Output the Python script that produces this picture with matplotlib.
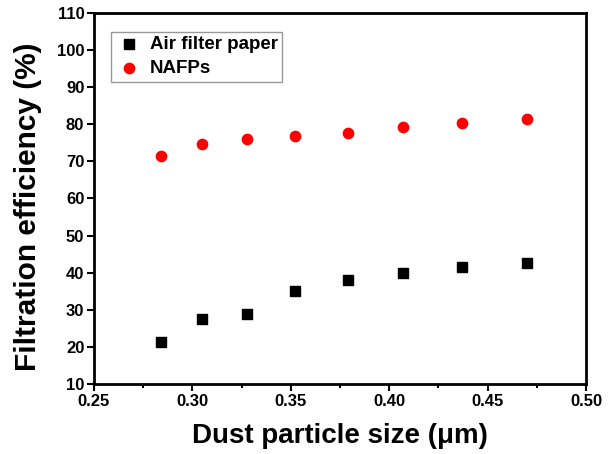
import matplotlib
matplotlib.use('Agg')
import matplotlib.pyplot as plt
from matplotlib.ticker import MultipleLocator

plt.rcParams['font.family'] = ['Liberation Sans', 'DejaVu Sans']
plt.rcParams['font.weight'] = 'bold'

# particle size (um)
sizes = [0.284, 0.305, 0.328, 0.352, 0.379, 0.407, 0.437, 0.470]
# filtration efficiency (%)
air_filter = [21.2, 27.5, 29.0, 35.0, 38.0, 40.0, 41.5, 42.5]
nafps = [71.5, 74.8, 76.1, 76.8, 77.7, 79.3, 80.3, 81.3]

fig = plt.figure(figsize=(6.08, 4.54), dpi=100)
ax = fig.add_axes([0.1546, 0.1542, 0.8092, 0.8172])

ax.scatter(sizes, air_filter, marker='s', s=50, color='black', label='Air filter paper', zorder=3)
ax.scatter(sizes, nafps, marker='o', s=55, color='red', label='NAFPs', zorder=3)

ax.set_xlim(0.25, 0.50)
ax.set_ylim(10, 110)
ax.xaxis.set_major_locator(MultipleLocator(0.05))
ax.xaxis.set_minor_locator(MultipleLocator(0.025))
ax.yaxis.set_major_locator(MultipleLocator(10))
ax.xaxis.set_major_formatter(matplotlib.ticker.FormatStrFormatter('%.2f'))

ax.tick_params(axis='both', which='major', direction='out', length=5, width=1.5, labelsize=12, pad=2)
ax.tick_params(axis='x', which='minor', direction='out', length=3, width=1.5)
for sp in ax.spines.values():
    sp.set_linewidth(2)

ax.set_xlabel('Dust particle size (μm)', fontsize=20, fontweight='bold', labelpad=10)
ax.set_ylabel('Filtration efficiency (%)', fontsize=21.5, fontweight='bold')
ax.yaxis.set_label_coords(-0.106, 0.478)

leg = ax.legend(loc='upper left', bbox_to_anchor=(0.035, 0.95), fontsize=13.5, frameon=True,
                fancybox=False, edgecolor='gray', handletextpad=0.4, borderpad=0.25,
                labelspacing=0.35, handlelength=1.4, borderaxespad=0)
leg.get_frame().set_linewidth(1)

fig.savefig('out.png', dpi=100)
